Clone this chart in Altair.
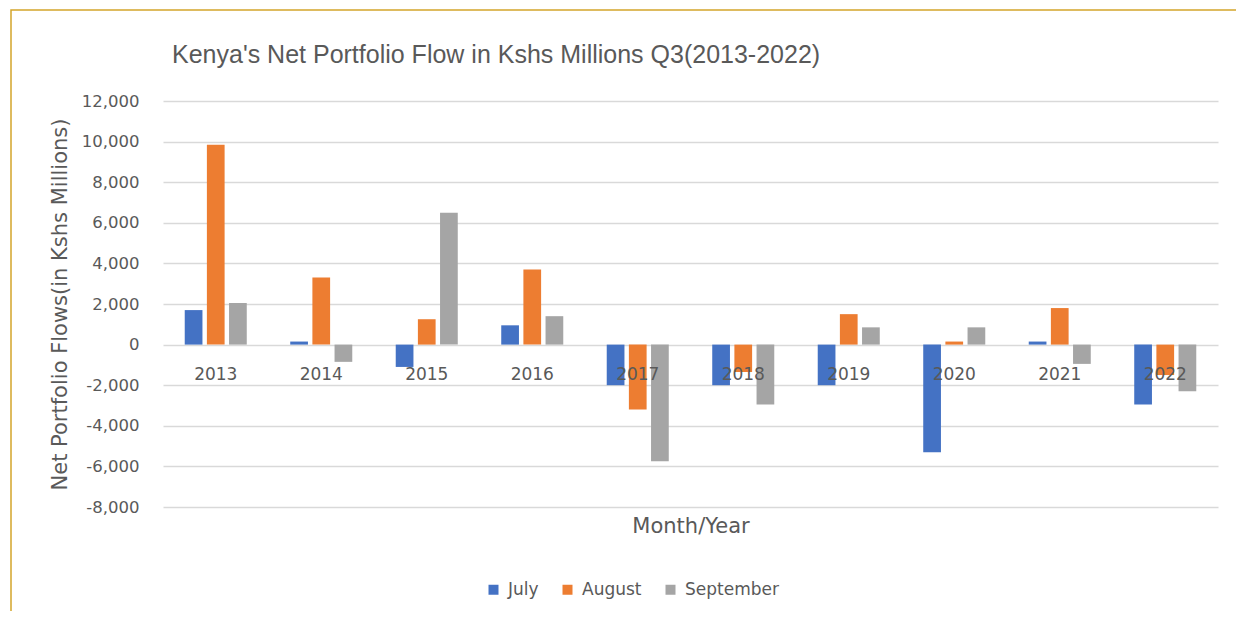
import altair as alt
import pandas as pd

years = ["2013", "2014", "2015", "2016", "2017", "2018", "2019", "2020", "2021", "2022"]
months = ["July", "August", "September"]
july = [1700, 150, -1100, 950, -2000, -2000, -2000, -5300, 150, -2950]
august = [9850, 3300, 1250, 3700, -3200, -1350, 1500, 150, 1800, -1500]
september = [2050, -850, 6500, 1400, -5750, -2950, 850, 850, -950, -2300]
colors = ["#4472C4", "#ED7D31", "#A5A5A5"]
y_ticks = [-8000, -6000, -4000, -2000, 0, 2000, 4000, 6000, 8000, 10000, 12000]
title_text = "Kenya's Net Portfolio Flow in Kshs Millions Q3(2013-2022)"

rows = []
for m, series in zip(months, [july, august, september]):
    for yr, v in zip(years, series):
        rows.append({"Year": yr, "Month": m, "Value": v})
df = pd.DataFrame(rows)

TXT = "#595959"
FONT = "DejaVu Sans"

bars = alt.Chart(df).mark_bar().encode(
    x=alt.X(
        "Year:N",
        sort=years,
        scale=alt.Scale(paddingInner=0.37, paddingOuter=0.185),
        axis=alt.Axis(
            title="Month/Year",
            offset=-162,
            domain=False,
            ticks=False,
            grid=False,
            labelAngle=0,
            labelPadding=21,
            labelFontSize=17,
            labelFont=FONT,
            labelColor=TXT,
            zindex=1,
            titleFont=FONT,
            titleFontSize=21,
            titleFontWeight="normal",
            titleColor=TXT,
            titleY=181,
            titleBaseline="middle",
        ),
    ),
    xOffset=alt.XOffset("Month:N", sort=months, scale=alt.Scale(paddingInner=0.2, paddingOuter=0.1)),
    y=alt.Y(
        "Value:Q",
        scale=alt.Scale(domain=[-8000, 12000], nice=False),
        axis=alt.Axis(
            title="Net Portfolio Flows(in Kshs Millions)",
            values=y_ticks,
            labelExpr="replace(format(datum.value, ',.0f'), '\u2212', '-')",
            domain=False,
            ticks=False,
            labelPadding=24,
            labelFontSize=16.5,
            labelFont=FONT,
            labelColor=TXT,
            gridColor="#D9D9D9",
            gridWidth=1.5,
            titleFont=FONT,
            titleFontSize=21,
            titleFontWeight="normal",
            titleColor=TXT,
            titleX=-103,
            titleY=203,
            titleAlign="center",
            titleBaseline="middle",
        ),
    ),
    color=alt.Color(
        "Month:N",
        sort=months,
        scale=alt.Scale(domain=months, range=colors),
        legend=alt.Legend(
            title=None,
            orient="none",
            legendX=322,
            legendY=480,
            direction="horizontal",
            symbolType="square",
            symbolSize=100,
            symbolStrokeWidth=0,
            labelFont=FONT,
            labelFontSize=17,
            labelColor=TXT,
            labelOffset=6,
            columnPadding=20,
        ),
    ),
)

frame = alt.Chart(pd.DataFrame({"k": [0]})).mark_rect(
    fillOpacity=0, stroke="#D4A52B", strokeWidth=1.5
).encode(
    x=alt.value(-152), x2=alt.value(1300), y=alt.value(-91), y2=alt.value(700)
)

title = alt.Chart(pd.DataFrame({"t": [title_text]})).mark_text(
    align="left",
    baseline="alphabetic",
    font="Liberation Sans",
    fontSize=25,
    color=TXT,
).encode(text="t:N", x=alt.value(9), y=alt.value(-38))

chart = alt.layer(frame, bars, title).properties(
    width=1055,
    height=406,
    background="white",
    autosize=alt.AutoSizeParams(type="none"),
    padding={"left": 155, "top": 93, "right": 18, "bottom": 104},
).configure_view(stroke=None)

chart.save("out.html", embed_options={"renderer": "svg", "actions": False})
